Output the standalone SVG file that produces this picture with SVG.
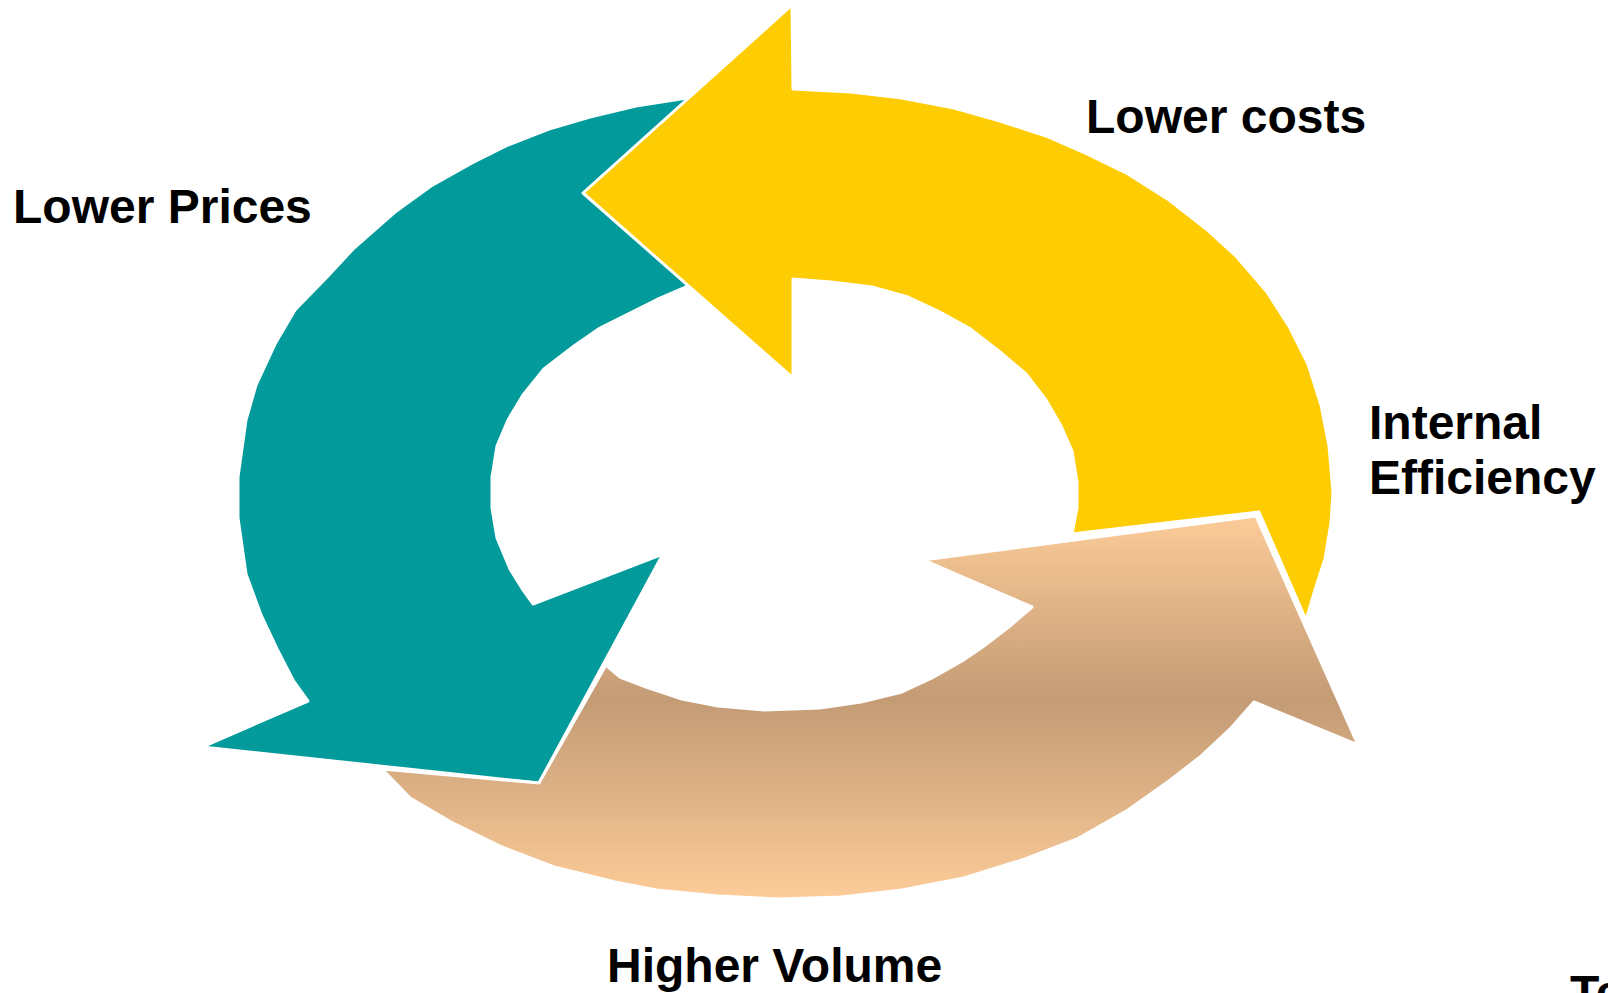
<svg xmlns="http://www.w3.org/2000/svg" width="1608" height="993" viewBox="0 0 1608 993">
  <defs>
    <linearGradient id="tanGrad" gradientUnits="userSpaceOnUse" x1="0" y1="516" x2="0" y2="900">
      <stop offset="0" stop-color="#FCCB98"/>
      <stop offset="0.48" stop-color="#C39B75"/>
      <stop offset="1" stop-color="#FDCC99"/>
    </linearGradient>
  </defs>
  <style>
    .arrow { stroke: #FFFFFF; stroke-width: 3; stroke-linejoin: round; }
    .teal { fill: #029A9A; }
    .yellow { fill: #FECC02; }
    .tan { fill: url(#tanGrad); }
    .label { font-family: "Liberation Sans", Arial, sans-serif; font-weight: bold; font-size: 48px; fill: #000000; }
  </style>

  <!-- circular arrows of the cycle -->
  <g id="cycle">
    <!-- Lower Prices arrow (teal, left side, points down) -->
    <g id="arrow-prices">
      <path class="arrow teal" d="M 706,86 L 687,98 L 636,106 L 590,117 L 549,129 L 508,145 L 472,163 L 431,186 L 395,212 L 354,248 L 328,276 L 295,310 L 275,344 L 256,385 L 246,420 L 238,477 L 238,518 L 246,574 L 261,615 L 277,649 L 293,680 L 308,701 L 202,747 L 539,783 L 663,554 L 533,604 L 523,590 L 510,569 L 497,538 L 492,508 L 492,477 L 497,446 L 508,420 L 523,395 L 544,369 L 574,346 L 600,328 L 626,315 L 656,300 L 686,287 L 720,193 Z"/>
    </g>
    <!-- Lower costs arrow (yellow, top right, points left) -->
    <g id="arrow-costs">
      <path class="arrow yellow" d="M 583,193 L 792,5 L 793,89 L 851,92 L 902,98 L 954,108 L 1000,121 L 1046,136 L 1087,154 L 1128,174 L 1169,200 L 1205,228 L 1236,256 L 1267,292 L 1290,328 L 1308,364 L 1321,405 L 1329,446 L 1333,492 L 1331,523 L 1325,559 L 1315,590 L 1306,620 L 1259,512 L 1072,534 L 1077,508 L 1077,482 L 1072,451 L 1061,426 L 1046,400 L 1026,374 L 1000,352 L 969,328 L 938,311 L 908,297 L 872,287 L 831,282 L 793,279 L 793,378 Z"/>
    </g>
    <!-- Higher Volume arrow (tan gradient, bottom, points up right) -->
    <g id="arrow-volume">
      <path class="arrow tan" d="M 382,769 L 539,783 L 606,665 L 620,677 L 646,687 L 682,699 L 718,706 L 764,710 L 820,708 L 861,702 L 902,692 L 932,678 L 962,661 L 984,646 L 1010,626 L 1032,607 L 923,560 L 1256,516 L 1358,745 L 1254,702 L 1231,728 L 1200,757 L 1169,781 L 1128,810 L 1077,839 L 1025,859 L 964,878 L 902,890 L 841,897 L 779,899 L 718,896 L 656,890 L 615,882 L 554,867 L 502,847 L 451,822 L 410,798 Z"/>
    </g>
  </g>

  <!-- stage labels -->
  <g id="labels">
    <text class="label" x="13" y="223">Lower Prices</text>
    <text class="label" x="1086" y="133">Lower costs</text>
    <text class="label" x="1369" y="439">Internal</text>
    <text class="label" x="1369" y="494">Efficiency</text>
    <text class="label" x="607" y="982">Higher Volume</text>
    <text class="label" x="1570" y="1009">Te</text>
  </g>
</svg>
